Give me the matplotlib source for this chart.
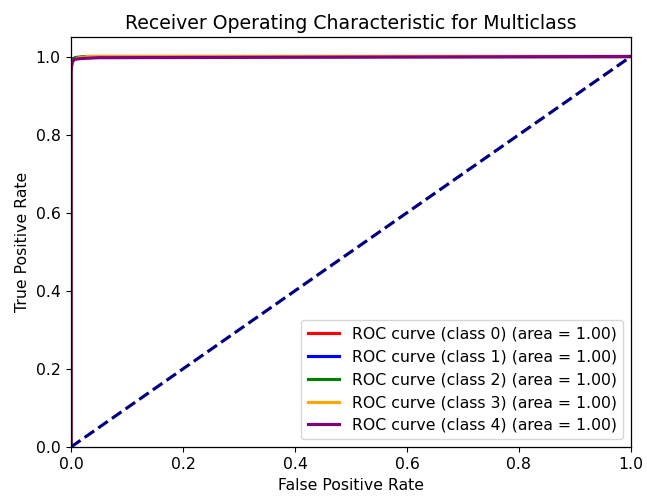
import matplotlib
matplotlib.use("Agg")
import matplotlib.pyplot as plt

# approximate ROC points
class_names = ["0", "1", "2", "3", "4"]
colors = ["red", "blue", "green", "orange", "purple"]
aucs = [1.00, 1.00, 1.00, 1.00, 1.00]

fpr_list = [
    [0.0, 0.0, 0.003, 0.010, 0.030, 1.0],
    [0.0, 0.0, 0.002, 0.008, 0.025, 1.0],
    [0.0, 0.0, 0.002, 0.010, 0.040, 1.0],
    [0.0, 0.0, 0.003, 0.012, 0.030, 1.0],
    [0.0, 0.0, 0.002, 0.006, 0.020, 0.050, 1.0],
]
tpr_list = [
    [0.0, 0.97, 0.990, 0.995, 1.0, 1.0],
    [0.0, 0.98, 0.992, 0.996, 1.0, 1.0],
    [0.0, 0.98, 0.994, 0.998, 1.0, 1.0],
    [0.0, 0.97, 0.990, 0.996, 1.0, 1.0],
    [0.0, 0.96, 0.985, 0.993, 0.995, 0.997, 1.0],
]

s = 1.13
plt.rcParams['font.size'] = 10 * s
plt.rcParams['axes.titlesize'] = 12 * s
plt.rcParams['axes.linewidth'] = 0.8 * s
plt.rcParams['xtick.major.size'] = 3.5 * s
plt.rcParams['ytick.major.size'] = 3.5 * s

fig = plt.figure(figsize=(6.47, 5.0), dpi=100)
ax = fig.add_axes([0.1097, 0.106, 0.8655, 0.82])

for i in range(len(class_names)):
    ax.plot(fpr_list[i], tpr_list[i], color=colors[i], lw=2 * s,
            label='ROC curve (class {0}) (area = {1:0.2f})'.format(class_names[i], aucs[i]))

ax.plot([0, 1], [0, 1], color='navy', lw=2 * s, linestyle='--')
ax.set_xlim([0.0, 1.0])
ax.set_ylim([0.0, 1.05])
ax.set_xlabel('False Positive Rate')
ax.set_ylabel('True Positive Rate')
ax.set_title('Receiver Operating Characteristic for Multiclass')
ax.legend(loc="lower right")

plt.savefig("out.png", dpi=100)
